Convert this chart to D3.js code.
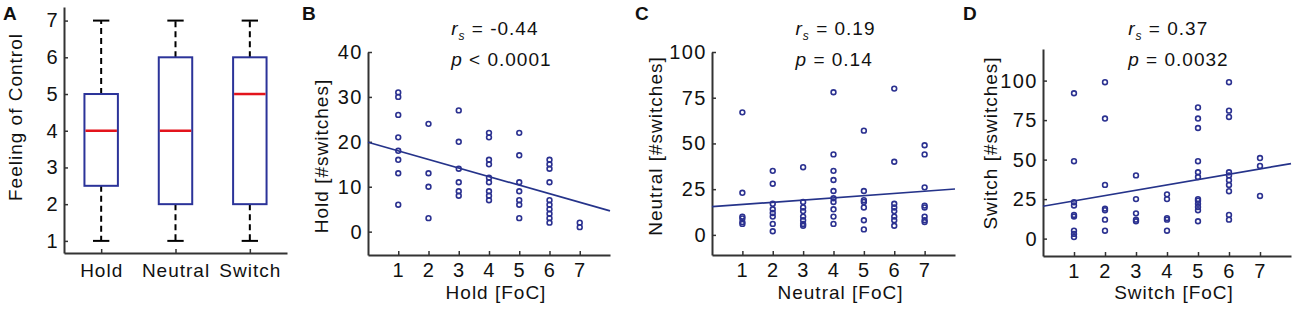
<!DOCTYPE html>
<html>
<head>
<meta charset="utf-8">
<script src="https://cdn.jsdelivr.net/npm/d3@7"></script>
<style>
body { margin: 0; background: #fff; }
text { font-family: Arial, "Liberation Sans", Helvetica, sans-serif; fill: #111; letter-spacing: 1px; }
</style>
</head>
<body>
<div id="container"></div>
<script>
var WIDTH = 1300,
	HEIGHT = 315,
	TICK_FONT = 20,
	LABEL_FONT = 19,
	AXIS_COLOR = '#333',
	DOT_COLOR = '#2b3190';

// panel A: box plot of feeling of control
var boxCategories = ['Hold', 'Neutral', 'Switch'];
var boxMin = [1, 1, 1];
var boxQ1 = [2.5, 2, 2];
var boxMedian = [4, 4, 5];
var boxQ3 = [5, 6, 6];
var boxMax = [7, 7, 7];
var focTicks = [1, 2, 3, 4, 5, 6, 7];

// panels B-D: #switches for each FoC level (index 0 = FoC 1)
var focLevels = [1, 2, 3, 4, 5, 6, 7];
var holdSwitches = [
	[31, 30, 26, 21, 18, 16, 13, 6],
	[24, 13, 10, 3],
	[27, 20, 14, 11, 9, 8],
	[22, 21, 16, 15, 12, 11, 9, 8, 7],
	[22, 17, 11, 9, 7, 6, 3],
	[16, 15, 14, 11, 7, 6, 5, 4, 3, 2],
	[2, 1]
];
var neutralSwitches = [
	[67, 23, 10, 9, 7, 6],
	[35, 28, 17, 14, 12, 10, 6, 2],
	[37, 18, 15, 13, 10, 8, 6, 5],
	[78, 44, 35, 30, 24, 20, 18, 14, 10, 6],
	[57, 24, 19, 18, 15, 8, 3],
	[80, 40, 17, 15, 13, 10, 8, 5],
	[49, 44, 26, 16, 15, 10, 8, 7]
];
var switchSwitches = [
	[92, 49, 23, 21, 15, 14, 5, 3, 1],
	[99, 76, 34, 19, 18, 12, 5],
	[40, 25, 16, 12, 11],
	[28, 25, 13, 12, 5],
	[83, 76, 70, 49, 42, 39, 25, 24, 22, 20, 18, 11],
	[99, 81, 77, 42, 40, 37, 34, 30, 15, 12],
	[51, 46, 27]
];
var holdTicks = [0, 10, 20, 30, 40];
var neutralTicks = [0, 25, 50, 75, 100];
var switchTicks = [0, 25, 50, 75, 100];

// linear fits (intercept, slope) and spearman stats
var fitIntercept = [19.9, 15.4, 20.5];
var fitSlope = [-1.91, 1.21, 3.37];
var rsText = ['-0.44', '0.19', '0.37'];
var pText = ['< 0.0001', '= 0.14', '= 0.0032'];

var svg = d3.select('#container')
	.append('svg')
	.attr('width', WIDTH)
	.attr('height', HEIGHT);

function styleAxis(g) {
	g.attr('color', AXIS_COLOR);
	g.select('.domain').attr('stroke-width', 2);
	g.selectAll('.tick line').attr('stroke-width', 1.5);
	g.selectAll('.tick text')
		.attr('font-size', TICK_FONT)
		.attr('font-family', null)
		.style('letter-spacing', '1.5px')
		.style('fill', '#111');
}

function panelLetter(letter, x, y) {
	svg.append('text')
		.attr('x', x)
		.attr('y', y)
		.attr('font-size', 19)
		.attr('font-weight', 'bold')
		.style('letter-spacing', '0px')
		.text(letter);
}

function yLabel(label, x, y) {
	svg.append('text')
		.attr('transform', 'translate(' + x + ',' + y + ') rotate(-90)')
		.attr('text-anchor', 'middle')
		.attr('font-size', LABEL_FONT)
		.text(label);
}

function drawBoxPanel() {
	var left = 64, right = 287, top = 7, bottom = 253;
	var x = d3.scalePoint().domain(boxCategories).range([left, right]).padding(0.5);
	var y = d3.scaleLinear().domain([0.67, 7.37]).range([bottom, top]);
	var step = x.step(), boxW = step * 0.45, capW = step * 0.22;

	svg.append('g')
		.attr('transform', 'translate(' + left + ',0)')
		.call(d3.axisLeft(y).tickValues(focTicks).tickFormat(d3.format('d')).tickSizeInner(-4).tickSizeOuter(0).tickPadding(5))
		.call(styleAxis);
	var xg = svg.append('g')
		.attr('transform', 'translate(0,' + bottom + ')')
		.call(d3.axisBottom(x).tickSizeInner(-4).tickSizeOuter(0).tickPadding(11))
		.call(styleAxis);
	xg.selectAll('.tick text').attr('font-size', LABEL_FONT).style('letter-spacing', '1px');

	var boxes = svg.append('g').selectAll('g').data(boxCategories).enter().append('g');
	// whiskers
	boxes.append('line')
		.attr('x1', function(d){return x(d)}).attr('x2', function(d){return x(d)})
		.attr('y1', function(d, i){return y(boxQ3[i])}).attr('y2', function(d, i){return y(boxMax[i])})
		.attr('stroke', '#000').attr('stroke-width', 2).attr('stroke-dasharray', '6,4');
	boxes.append('line')
		.attr('x1', function(d){return x(d)}).attr('x2', function(d){return x(d)})
		.attr('y1', function(d, i){return y(boxQ1[i])}).attr('y2', function(d, i){return y(boxMin[i])})
		.attr('stroke', '#000').attr('stroke-width', 2).attr('stroke-dasharray', '6,4');
	// caps
	boxes.append('line')
		.attr('x1', function(d){return x(d) - capW/2}).attr('x2', function(d){return x(d) + capW/2})
		.attr('y1', function(d, i){return y(boxMax[i])}).attr('y2', function(d, i){return y(boxMax[i])})
		.attr('stroke', '#000').attr('stroke-width', 2);
	boxes.append('line')
		.attr('x1', function(d){return x(d) - capW/2}).attr('x2', function(d){return x(d) + capW/2})
		.attr('y1', function(d, i){return y(boxMin[i])}).attr('y2', function(d, i){return y(boxMin[i])})
		.attr('stroke', '#000').attr('stroke-width', 2);
	// box
	boxes.append('rect')
		.attr('x', function(d){return x(d) - boxW/2})
		.attr('width', boxW)
		.attr('y', function(d, i){return y(boxQ3[i])})
		.attr('height', function(d, i){return y(boxQ1[i]) - y(boxQ3[i])})
		.attr('fill', '#fff')
		.attr('stroke', '#2b3399')
		.attr('stroke-width', 2);
	// median
	boxes.append('line')
		.attr('x1', function(d){return x(d) - boxW/2 + 1}).attr('x2', function(d){return x(d) + boxW/2 - 1})
		.attr('y1', function(d, i){return y(boxMedian[i])}).attr('y2', function(d, i){return y(boxMedian[i])})
		.attr('stroke', '#e3141c').attr('stroke-width', 2.5);

	yLabel('Feeling of Control', 22, 117);
	panelLetter('A', 3, 20);
}

function drawScatterPanel(p, idx) {
	var x = d3.scaleLinear().domain([0, 8]).range([p.left, p.right]);
	var y = d3.scaleLinear().domain(p.yDomain).range([p.bottom, p.top]);

	svg.append('g')
		.attr('transform', 'translate(' + p.left + ',0)')
		.call(d3.axisLeft(y).tickValues(p.ticks).tickSizeInner(-4).tickSizeOuter(0).tickPadding(5))
		.call(styleAxis);
	svg.append('g')
		.attr('transform', 'translate(0,' + p.bottom + ')')
		.call(d3.axisBottom(x).tickValues(focLevels).tickSizeInner(-4).tickSizeOuter(0).tickPadding(8))
		.call(styleAxis);

	var points = [];
	p.values.forEach(function(col, i) {
		col.forEach(function(v){ points.push({x: focLevels[i], y: v}); });
	});

	var line = d3.line()
		.x(function(d){return x(d)})
		.y(function(d){return y(fitIntercept[idx] + fitSlope[idx] * d)});
	svg.append('path')
		.attr('d', line(x.domain()))
		.attr('stroke', '#25338a')
		.attr('stroke-width', 1.7)
		.attr('fill', 'none');

	svg.append('g').selectAll('circle').data(points).enter()
		.append('circle')
		.attr('cx', function(d){return x(d.x)})
		.attr('cy', function(d){return y(d.y)})
		.attr('r', 2.4)
		.attr('fill', 'none')
		.attr('stroke', DOT_COLOR)
		.attr('stroke-width', 1.6);

	// stats text
	var tx = x(2.75);
	var t1 = svg.append('text').attr('x', tx).attr('y', 35).attr('font-size', LABEL_FONT);
	t1.append('tspan').attr('font-style', 'italic').text('r');
	t1.append('tspan').attr('font-style', 'italic').attr('font-size', 12).attr('dy', 5).text('s');
	t1.append('tspan').attr('dy', -5).text(' = ' + rsText[idx]);
	var t2 = svg.append('text').attr('x', tx).attr('y', 66).attr('font-size', LABEL_FONT);
	t2.append('tspan').attr('font-style', 'italic').text('p');
	t2.append('tspan').text(' ' + pText[idx]);

	svg.append('text')
		.attr('x', (p.left + p.right) / 2 + 7)
		.attr('y', 299)
		.attr('text-anchor', 'middle')
		.attr('font-size', LABEL_FONT)
		.text(p.xLabel);
	yLabel(p.yLabel, p.yLabelX, p.yLabelY);
	panelLetter(p.letter, p.letterX, 20);
}

var scatterPanels = [
	{letter: 'B', letterX: 302, left: 368, right: 610, top: 52, bottom: 255, yDomain: [-5.2, 40], ticks: holdTicks,
		values: holdSwitches, xLabel: 'Hold [FoC]', yLabel: 'Hold [#switches]', yLabelX: 328, yLabelY: 156},
	{letter: 'C', letterX: 635, left: 712, right: 955, top: 52, bottom: 255, yDomain: [-11, 100], ticks: neutralTicks,
		values: neutralSwitches, xLabel: 'Neutral [FoC]', yLabel: 'Neutral [#switches]', yLabelX: 662, yLabelY: 146},
	{letter: 'D', letterX: 963, left: 1043, right: 1291, top: 49, bottom: 256, yDomain: [-11, 120], ticks: switchTicks,
		values: switchSwitches, xLabel: 'Switch [FoC]', yLabel: 'Switch [#switches]', yLabelX: 997, yLabelY: 143}
];

drawBoxPanel();
scatterPanels.forEach(drawScatterPanel);
</script>
</body>
</html>
